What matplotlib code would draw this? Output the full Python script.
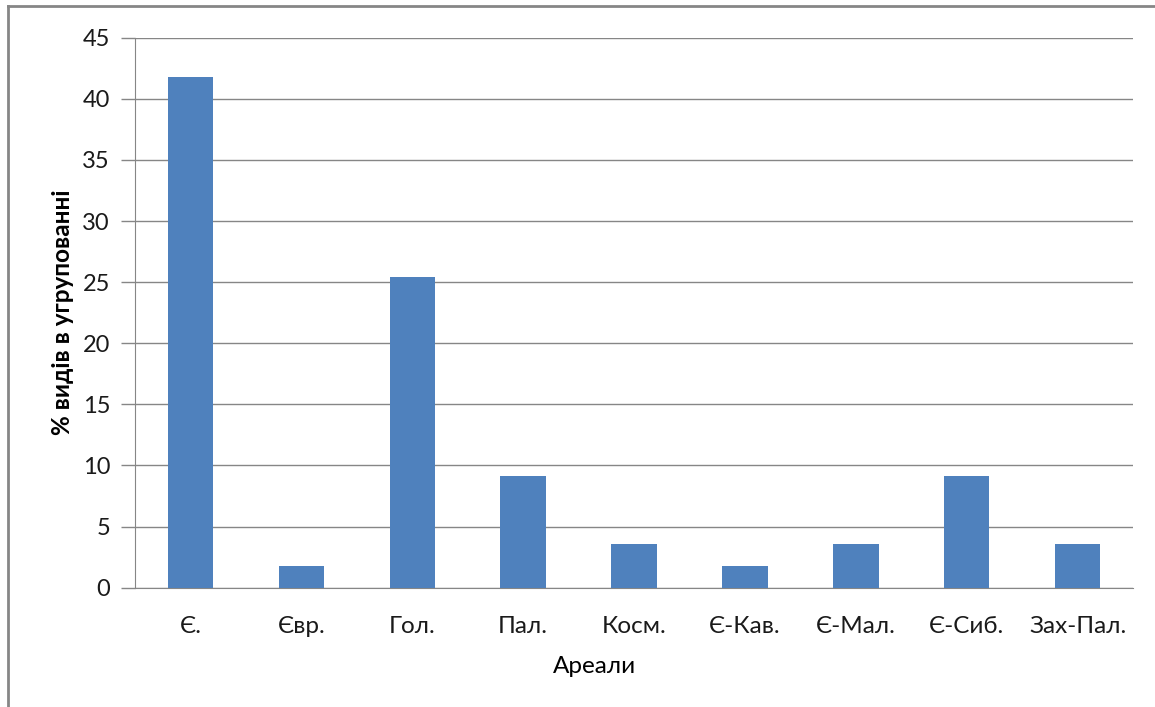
import matplotlib
matplotlib.use("Agg")
import matplotlib.pyplot as plt
from matplotlib.lines import Line2D

areas = ['Є.', 'Євр.', 'Гол.', 'Пал.', 'Косм.', 'Є-Кав.', 'Є-Мал.', 'Є-Сиб.', 'Зах-Пал.']
percent = [41.8, 1.8, 25.45, 9.1, 3.6, 1.8, 3.6, 9.1, 3.6]
yticks = [0, 5, 10, 15, 20, 25, 30, 35, 40, 45]

plt.rcParams['font.family'] = ['Lato', 'DejaVu Sans']

fig = plt.figure(figsize=(11.55, 7.07), dpi=100)
ax = fig.add_axes([0.1169, 0.1687, 0.8641, 0.778])

x = range(len(areas))
ax.bar(x, percent, width=0.41, color='#4F81BD', zorder=3)

ax.set_xlim(-0.5, len(areas) - 0.5)
ax.set_ylim(0, 45)
ax.set_yticks(yticks)
ax.set_xticks(list(x))
ax.set_xticklabels(areas, fontsize=17.5, color='#1a1a1a')
ax.tick_params(axis='y', labelsize=17, length=10, width=1, color='#868686',
               pad=8, labelcolor='#1a1a1a')
ax.tick_params(axis='x', length=0, pad=20)
ax.grid(axis='y', color='#868686', linewidth=1, zorder=0)

for side in ['top', 'right']:
    ax.spines[side].set_visible(False)
ax.spines['left'].set_color('#868686')
ax.spines['bottom'].set_color('#868686')

ax.set_ylabel('% видів в угрупованні', fontsize=17.5, fontweight='bold', labelpad=6)
ax.set_xlabel('Ареали', fontsize=17.5, labelpad=14)
ax.xaxis.label.set_x(0.46)

# outer frame (top and left edges visible)
fig.add_artist(Line2D([0.007, 1.0], [0.9915, 0.9915], transform=fig.transFigure,
                      color='#868686', linewidth=2))
fig.add_artist(Line2D([0.007, 0.007], [0.0, 0.9915], transform=fig.transFigure,
                      color='#868686', linewidth=2))

fig.savefig('out.png', dpi=100)
